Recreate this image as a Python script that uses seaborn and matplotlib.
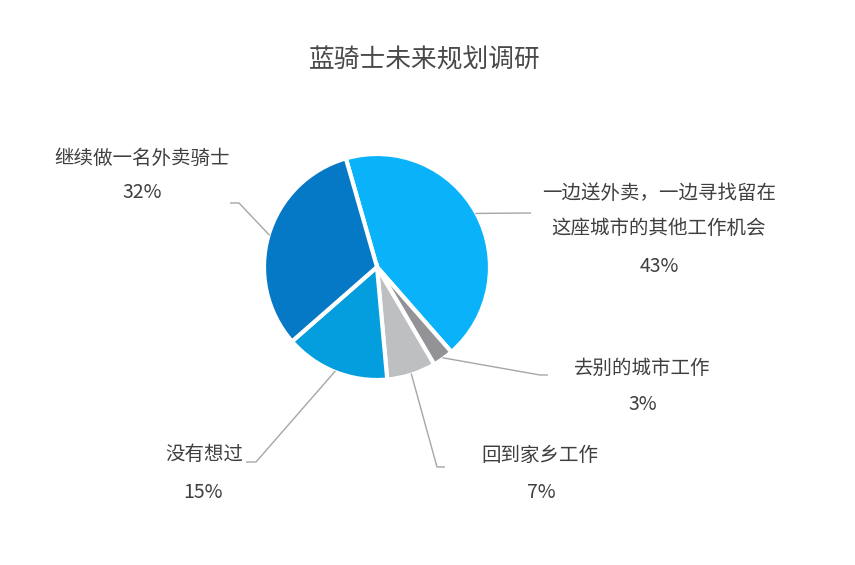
import numpy as np
import matplotlib
matplotlib.use("Agg")
import matplotlib.pyplot as plt
import seaborn as sns

# ---- data ----
categories = ["一边送外卖，一边寻找留在\n这座城市的其他工作机会", "去别的城市工作", "回到家乡工作", "没有想过", "继续做一名外卖骑士"]
values = [43, 3, 7, 15, 32]
pct_labels = ["43%", "3%", "7%", "15%", "32%"]
colors = ["#0AB3F9", "#939296", "#BEBFC1", "#049EDF", "#0679C6"]
title = "蓝骑士未来规划调研"

sns.set_theme(style="white")
plt.rcParams["font.family"] = ["Noto Sans CJK SC", "DejaVu Sans"]

W, H, DPI = 855, 565, 100
CX, CY, S = 377, 267, 113.0  # pie centre in pixels, pixels per unit

fig = plt.figure(figsize=(W / DPI, H / DPI), dpi=DPI)
fig.patch.set_facecolor("white")
ax = fig.add_axes([0, 0, 1, 1])


def P(px, py):
    return ((px - CX) / S, (CY - py) / S)


wedges, _ = ax.pie(values, colors=colors, startangle=106, counterclock=False,
                   radius=1.0, wedgeprops=dict(edgecolor="white", linewidth=3))
ax.set_xlim(-CX / S, (W - CX) / S)
ax.set_ylim(-(H - CY) / S, CY / S)
ax.set_axis_off()

# leader line elbows / ends (pixels) and text centres (pixels)
elbows = [(528, 213), (540, 375), (437, 467), (256, 462), (239, 203)]
ends = [(531, 213), (548, 375), (445, 467), (246, 462), (230, 203)]
name_pos = [(659, 211), (642, 368), (540, 455), (204, 455), (142, 158)]
pct_pos = [(659, 266), (643, 404), (541, 492), (203, 492), (142, 193)]

txt_color = "#3f3f3f"
for w, el, en, npos, ppos, cat, pl in zip(wedges, elbows, ends, name_pos, pct_pos, categories, pct_labels):
    ang = np.deg2rad((w.theta1 + w.theta2) / 2)
    sx, sy = 0.99 * np.cos(ang), 0.99 * np.sin(ang)
    ex, ey = P(*el)
    fx, fy = P(*en)
    ax.plot([sx, ex, fx], [sy, ey, fy], color="#A6A6A6", lw=1.0, solid_capstyle="butt")
    ax.text(*P(*npos), cat, ha="center", va="center", fontsize=14, color=txt_color,
            linespacing=1.88)
    ax.text(*P(*ppos), pl, ha="center", va="center", fontsize=14, color=txt_color)

fig.text(425 / W, 1 - 60 / H, title, ha="center", va="center", fontsize=18.5, color="#4a4a4a")

fig.savefig("out.png", dpi=DPI, facecolor="white")
